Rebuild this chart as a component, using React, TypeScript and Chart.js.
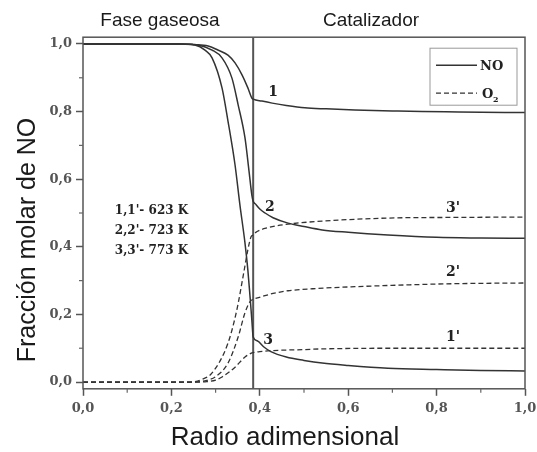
import { useEffect, useRef } from 'react';
import { Chart, registerables } from 'chart.js';

Chart.register(...registerables);

const SANS = '"Liberation Sans", Arial, sans-serif';
const SERIF = '"DejaVu Serif", "Liberation Serif", serif';
const INK = '#333';

// Gas phase / catalyst boundary (dimensionless radius)
const INTERFACE_X = 0.385;

const Y_MIN = -0.02;
const Y_MAX = 1.02;
const tickLabels = ['0,0', '0,2', '0,4', '0,6', '0,8', '1,0'];

// NO molar fraction, curves 1, 2, 3
const no1X = [0, 0.22, 0.25, 0.283, 0.305, 0.328, 0.344, 0.36, 0.373, 0.382, 0.385, 0.405, 0.428, 0.46, 0.502, 0.55, 0.615, 0.7, 0.767, 0.85, 1.0];
const no1Y = [1.0, 1.0, 0.998, 0.994, 0.982, 0.967, 0.944, 0.908, 0.87, 0.84, 0.837, 0.831, 0.825, 0.818, 0.811, 0.808, 0.805, 0.802, 0.8, 0.799, 0.797];

const no2X = [0, 0.22, 0.26, 0.292, 0.3145, 0.337, 0.351, 0.3665, 0.3756, 0.382, 0.385, 0.39, 0.4, 0.412, 0.43, 0.464, 0.5, 0.541, 0.6, 0.69, 0.8, 0.9, 1.0];
const no2Y = [1.0, 1.0, 0.997, 0.982, 0.959, 0.899, 0.82, 0.722, 0.624, 0.553, 0.535, 0.527, 0.512, 0.5, 0.486, 0.47, 0.46, 0.45, 0.443, 0.435, 0.428, 0.426, 0.425];

const no3X = [0, 0.22, 0.253, 0.276, 0.292, 0.3145, 0.328, 0.344, 0.355, 0.3665, 0.373, 0.378, 0.382, 0.385, 0.394, 0.41, 0.425, 0.46, 0.5, 0.541, 0.6, 0.69, 0.8, 0.9, 1.0];
const no3Y = [1.0, 1.0, 0.997, 0.982, 0.959, 0.87, 0.772, 0.642, 0.524, 0.411, 0.331, 0.251, 0.183, 0.133, 0.122, 0.103, 0.09, 0.074, 0.064, 0.056, 0.049, 0.041, 0.037, 0.034, 0.033];

// O2 molar fraction, curves 1', 2', 3'
const o1X = [0, 0.26, 0.28, 0.3, 0.3145, 0.344, 0.3665, 0.382, 0.385, 0.4, 0.428, 0.5, 0.541, 0.7, 1.0];
const o1Y = [0, 0, 0.001, 0.006, 0.015, 0.044, 0.074, 0.086, 0.087, 0.09, 0.093, 0.096, 0.098, 0.1, 0.1];

const o2X = [0, 0.25, 0.27, 0.28, 0.299, 0.328, 0.351, 0.3665, 0.378, 0.385, 0.39, 0.405, 0.43, 0.464, 0.52, 0.615, 0.75, 0.842, 1.0];
const o2Y = [0, 0, 0.002, 0.005, 0.015, 0.056, 0.133, 0.205, 0.238, 0.245, 0.247, 0.253, 0.262, 0.27, 0.276, 0.282, 0.288, 0.291, 0.293];

const o3X = [0, 0.24, 0.253, 0.27, 0.292, 0.328, 0.348, 0.362, 0.373, 0.38, 0.385, 0.389, 0.42, 0.464, 0.541, 0.69, 0.85, 1.0];
const o3Y = [0, 0, 0.001, 0.008, 0.027, 0.115, 0.213, 0.311, 0.391, 0.429, 0.435, 0.441, 0.457, 0.467, 0.476, 0.485, 0.487, 0.488];

// Curve tags, placed in data coordinates
const curveTags = [
  { text: '1', x: 0.43, y: 0.858 },
  { text: '2', x: 0.423, y: 0.518 },
  { text: '3', x: 0.419, y: 0.124 },
  { text: "3'", x: 0.837, y: 0.515 },
  { text: "2'", x: 0.837, y: 0.325 },
  { text: "1'", x: 0.837, y: 0.133 },
];

const temperatureNotes = ["1,1'- 623 K", "2,2'- 723 K", "3,3'- 773 K"];
const notesAnchor = { x: 0.072, y: 0.506, step: 0.059 };

const regionTitles = [
  { text: 'Fase gaseosa', x: 160 },
  { text: 'Catalizador', x: 371 },
];

const pts = (xs: number[], ys: number[]) => xs.map((x, i) => ({ x, y: ys[i] }));

const isMajor = (v: number) => Math.round(v * 10) % 2 === 0;

const decorations = {
  id: 'decorations',
  afterDatasetsDraw(chart: any) {
    const { ctx, chartArea: a, scales } = chart;
    const sx = scales.x;
    const sy = scales.y;
    ctx.save();

    // frame
    ctx.strokeStyle = '#555';
    ctx.lineWidth = 1.5;
    ctx.strokeRect(a.left, a.top, a.right - a.left, a.bottom - a.top);

    // minor ticks
    ctx.lineWidth = 1.2;
    ctx.strokeStyle = '#666';
    for (let i = 1; i < 10; i += 2) {
      const px = sx.getPixelForValue(i / 10);
      ctx.beginPath();
      ctx.moveTo(px, a.bottom);
      ctx.lineTo(px, a.bottom + 4);
      ctx.stroke();
      const py = sy.getPixelForValue(i / 10);
      ctx.beginPath();
      ctx.moveTo(a.left - 4, py);
      ctx.lineTo(a.left, py);
      ctx.stroke();
    }

    // curve tags
    ctx.fillStyle = '#222';
    ctx.font = `bold 14px ${SERIF}`;
    ctx.textAlign = 'center';
    ctx.textBaseline = 'middle';
    curveTags.forEach((t) => {
      ctx.fillText(t.text, sx.getPixelForValue(t.x), sy.getPixelForValue(t.y));
    });

    // temperature notes
    ctx.font = `bold 12px ${SERIF}`;
    ctx.textAlign = 'left';
    temperatureNotes.forEach((t, i) => {
      ctx.fillText(t, sx.getPixelForValue(notesAnchor.x), sy.getPixelForValue(notesAnchor.y - i * notesAnchor.step));
    });

    // legend box
    const bw = 87;
    const bh = 57;
    const bx = a.right - 8 - bw;
    const by = a.top + 11;
    ctx.strokeStyle = '#999';
    ctx.lineWidth = 1;
    ctx.strokeRect(bx, by, bw, bh);
    ctx.strokeStyle = INK;
    ctx.lineWidth = 1.5;
    ctx.beginPath();
    ctx.moveTo(bx + 6, by + 17);
    ctx.lineTo(bx + 47, by + 17);
    ctx.stroke();
    ctx.setLineDash([5, 3]);
    ctx.lineWidth = 1.3;
    ctx.beginPath();
    ctx.moveTo(bx + 6, by + 45);
    ctx.lineTo(bx + 47, by + 45);
    ctx.stroke();
    ctx.setLineDash([]);
    ctx.font = `bold 13px ${SERIF}`;
    ctx.textAlign = 'left';
    ctx.textBaseline = 'alphabetic';
    ctx.fillText('NO', bx + 50, by + 22);
    ctx.fillText('O', bx + 52, by + 50);
    ctx.font = `bold 8px ${SERIF}`;
    ctx.fillText('2', bx + 63, by + 54);

    ctx.restore();
  },
  afterDraw(chart: any) {
    const { ctx } = chart;
    ctx.save();
    ctx.fillStyle = '#1a1a1a';
    ctx.textBaseline = 'alphabetic';
    ctx.textAlign = 'center';

    ctx.font = `19px ${SANS}`;
    regionTitles.forEach((r) => ctx.fillText(r.text, r.x, 26));

    ctx.font = `26px ${SANS}`;
    ctx.fillText('Radio adimensional', 285, 445);

    ctx.translate(35, 240);
    ctx.rotate(-Math.PI / 2);
    ctx.font = `25px ${SANS}`;
    ctx.fillText('Fracción molar de NO', 0, 0);
    ctx.restore();
  },
};

export default function App() {
  const ref = useRef<HTMLCanvasElement | null>(null);

  useEffect(() => {
    if (!ref.current) return;
    const solid = (data: { x: number; y: number }[]) => ({
      data,
      showLine: true,
      borderColor: INK,
      borderWidth: 1.5,
      pointRadius: 0,
      cubicInterpolationMode: 'monotone' as const,
    });
    const dashed = (data: { x: number; y: number }[]) => ({
      ...solid(data),
      borderWidth: 1.3,
      borderDash: [5, 3],
    });

    const tickOpts = {
      font: { family: SERIF, size: 13, weight: 'bold' as const },
      color: '#555',
      autoSkip: false,
      maxRotation: 0,
      includeBounds: false,
      stepSize: 0.1,
      callback: (v: number | string) => {
        const n = Number(v);
        return isMajor(n) ? tickLabels[Math.round(n * 5)] : '';
      },
    };
    const gridOpts = {
      drawOnChartArea: false,
      tickLength: 7,
      tickWidth: 1.5,
      tickColor: (c: any) => (c.tick && isMajor(c.tick.value) ? '#555' : 'rgba(0,0,0,0)'),
    };

    const chart = new Chart(ref.current, {
      type: 'scatter',
      data: {
        datasets: [
          solid(pts(no1X, no1Y)),
          solid(pts(no2X, no2Y)),
          solid(pts(no3X, no3Y)),
          dashed(pts(o1X, o1Y)),
          dashed(pts(o2X, o2Y)),
          dashed(pts(o3X, o3Y)),
          {
            data: [
              { x: INTERFACE_X, y: Y_MIN },
              { x: INTERFACE_X, y: Y_MAX },
            ],
            showLine: true,
            borderColor: '#555',
            borderWidth: 2,
            pointRadius: 0,
          },
        ],
      },
      options: {
        animation: false,
        responsive: true,
        maintainAspectRatio: false,
        layout: { padding: { top: 37.2, right: 12, bottom: 0, left: 0 } },
        plugins: { legend: { display: false }, tooltip: { enabled: false } },
        scales: {
          x: {
            type: 'linear',
            min: 0,
            max: 1,
            border: { display: false },
            grid: gridOpts,
            ticks: { ...tickOpts, padding: 5 },
            afterFit: (s: any) => {
              s.height = 63.2;
              s.paddingLeft = 0;
              s.paddingRight = 0;
            },
          },
          y: {
            type: 'linear',
            min: Y_MIN,
            max: Y_MAX,
            border: { display: false },
            grid: gridOpts,
            ticks: { ...tickOpts, padding: 4 },
            afterFit: (s: any) => {
              s.width = 83;
              s.paddingTop = 0;
              s.paddingBottom = 0;
            },
          },
        },
      },
      plugins: [decorations],
    } as any);
    return () => chart.destroy();
  }, []);

  return (
    <div style={{ position: 'fixed', left: 0, top: 0, width: 537, height: 452, background: '#fff' }}>
      <canvas ref={ref} />
    </div>
  );
}
